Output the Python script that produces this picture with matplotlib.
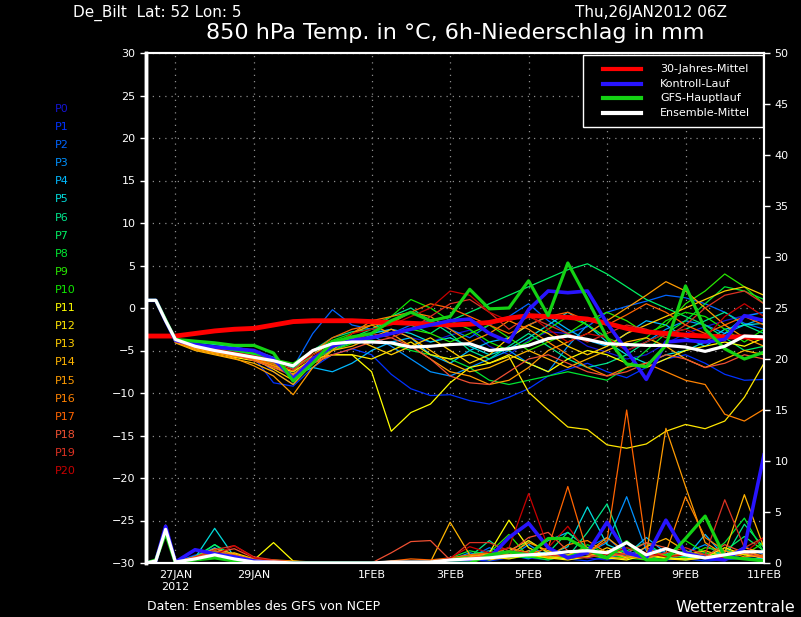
import matplotlib
matplotlib.use('Agg')
import matplotlib.pyplot as plt
from matplotlib.lines import Line2D
from matplotlib.patches import Rectangle

# time axis: hours after 26JAN2012 06Z
hours = [0, 6, 12, 18, 30, 42, 54, 66, 78, 90, 102, 114, 126, 138, 150, 162, 174,
         186, 198, 210, 222, 234, 246, 258, 270, 282, 294, 306, 318, 330, 342, 354, 366, 378]
tick_hours = [18, 66, 138, 186, 234, 282, 330, 378]
tick_labels = ['27JAN\n2012', '29JAN', '1FEB', '3FEB', '5FEB', '7FEB', '9FEB', '11FEB']

# 850 hPa temperature (deg C) of the ensemble members P0..P20
t_p0 = [0.9, 0.9, -1.5, -3.9, -4.6, -4.9, -5.3, -5.6, -7.5, -9.0, -6.0, -4.2, -3.6, -3.0, -2.5, -3.5, -4.0, -3.2, -2.6, -4.5, -5.5, -3.8, -2.8, -3.0, -4.5, -5.2, -6.0, -5.5, -4.2, -3.0, -2.2, -1.5, -0.9, -0.5]
t_p1 = [0.9, 0.9, -1.4, -4.0, -4.4, -4.8, -5.2, -5.8, -8.8, -9.2, -7.0, -5.5, -4.8, -5.5, -7.8, -9.5, -10.3, -10.2, -10.9, -11.3, -10.5, -9.5, -8.0, -7.2, -6.5, -7.5, -8.2, -7.0, -6.0, -5.5, -6.5, -7.8, -8.5, -8.4]
t_p2 = [0.9, 0.9, -1.5, -3.8, -4.2, -4.6, -5.0, -5.3, -6.0, -7.0, -3.0, -0.2, -2.0, -2.5, -3.0, -2.0, -1.5, -2.5, -3.5, -2.0, -1.0, 0.5, -1.5, -3.0, -2.2, -0.5, 0.2, 0.8, 1.5, 1.2, 0.5, -0.5, -1.8, -2.5]
t_p3 = [0.9, 0.9, -1.4, -3.7, -4.3, -4.7, -5.0, -5.5, -6.3, -7.8, -6.0, -5.0, -4.0, -3.2, -4.5, -6.0, -7.5, -8.0, -7.0, -6.0, -5.0, -6.5, -7.5, -4.5, -2.0, -3.5, -5.0, -4.0, -2.5, -1.5, -2.0, -3.0, -1.0, -0.5]
t_p4 = [0.9, 0.9, -1.5, -3.9, -4.5, -5.0, -5.5, -5.8, -6.5, -8.0, -7.0, -7.5, -6.5, -5.0, -4.0, -3.5, -5.5, -6.5, -5.0, -4.0, -3.5, -2.0, -1.0, -2.5, -3.8, -4.5, -3.0, -1.5, -2.0, -3.5, -4.5, -3.0, -2.0, -1.2]
t_p5 = [0.9, 0.9, -1.4, -3.8, -4.0, -4.3, -4.6, -5.0, -5.8, -7.2, -5.5, -4.0, -3.5, -3.0, -2.5, -3.0, -4.0, -3.5, -4.5, -5.5, -4.8, -3.5, -2.0, -0.5, -2.0, -4.0, -5.5, -6.5, -5.5, -5.0, -4.0, -2.5, -2.0, -1.8]
t_p6 = [0.9, 0.9, -1.5, -4.0, -4.7, -5.1, -5.4, -5.7, -6.5, -7.5, -5.0, -3.5, -2.8, -2.5, -1.0, 0.0, -1.5, -3.0, -5.0, -6.0, -4.5, -3.0, -4.5, -6.0, -7.0, -6.5, -5.5, -4.0, -3.0, -2.5, -1.5, -0.5, -2.0, -3.0]
t_p7 = [0.9, 0.9, -1.4, -3.9, -4.4, -4.8, -5.1, -5.5, -6.2, -7.0, -5.5, -4.5, -3.5, -2.5, -1.5, -2.0, -3.0, -1.5, -0.5, 0.5, 1.5, 2.5, 3.5, 4.5, 5.2, 4.0, 2.5, 1.0, 0.0, -1.0, -2.0, -3.5, -5.0, -4.5]
t_p8 = [0.9, 0.9, -1.5, -3.8, -4.3, -4.7, -5.1, -5.4, -6.0, -6.8, -5.8, -4.8, -4.0, -3.8, -4.2, -5.0, -5.5, -6.0, -7.0, -8.5, -9.0, -8.5, -8.0, -7.5, -8.0, -8.5, -7.0, -5.0, -3.0, -1.5, 0.5, 2.5, 2.0, 1.0]
t_p9 = [0.9, 0.9, -1.4, -4.0, -4.6, -5.0, -5.4, -5.8, -6.6, -7.5, -6.0, -5.0, -4.2, -3.5, -3.0, -2.5, -3.0, -4.0, -3.0, -2.0, -3.5, -5.0, -4.0, -3.0, -1.5, -0.5, -1.5, -3.0, -2.0, 0.5, 2.0, 4.0, 2.5, 0.5]
t_p10 = [0.9, 0.9, -1.5, -3.9, -4.4, -4.7, -5.0, -5.3, -6.0, -6.5, -5.0, -3.8, -3.0, -2.0, -1.0, 1.0, 0.0, -1.5, -2.5, -4.0, -5.0, -4.0, -2.5, -1.0, -2.0, -3.5, -4.5, -3.5, -1.5, -0.5, -1.0, -2.5, -4.0, -2.5]
t_p11 = [0.9, 0.9, -1.4, -3.9, -4.6, -5.2, -5.8, -6.2, -7.0, -7.8, -6.5, -5.5, -5.5, -7.5, -14.5, -12.3, -11.3, -8.8, -7.0, -6.5, -5.5, -6.5, -7.5, -6.0, -5.0, -5.5, -6.5, -7.0, -6.0, -5.0, -4.5, -4.0, -4.5, -3.5]
t_p12 = [0.9, 0.9, -1.5, -4.0, -4.5, -5.0, -5.5, -6.0, -6.8, -7.5, -6.0, -5.5, -5.5, -6.0, -5.0, -4.0, -5.5, -6.0, -5.5, -6.5, -5.7, -9.9, -12.0, -14.0, -14.3, -16.1, -16.5, -16.0, -14.5, -13.7, -14.2, -13.3, -10.5, -6.5]
t_p13 = [0.9, 0.9, -1.5, -3.8, -4.8, -5.3, -5.6, -6.0, -7.2, -8.5, -5.5, -4.0, -3.5, -4.5, -5.5, -4.5, -3.5, -5.0, -6.5, -5.5, -3.5, -2.0, -3.0, -4.5, -5.5, -4.5, -3.0, -2.0, -1.0, 0.0, 1.0, 2.0, 2.5, 1.5]
t_p14 = [0.9, 0.9, -1.4, -4.1, -5.0, -5.5, -6.0, -6.5, -7.5, -9.0, -6.5, -5.0, -4.5, -3.5, -2.5, -3.5, -5.0, -6.5, -7.5, -7.0, -6.0, -5.0, -6.0, -7.0, -6.0, -5.0, -4.0, -3.5, -4.5, -6.0, -7.0, -6.0, -5.0, -5.5]
t_p15 = [0.9, 0.9, -1.5, -4.0, -4.9, -5.4, -5.9, -6.8, -8.0, -10.2, -7.0, -5.0, -3.0, -2.0, -3.0, -4.5, -6.0, -7.5, -8.0, -9.0, -8.5, -7.0, -5.0, -4.0, -3.0, -1.5, 0.0, 1.5, 3.1, 2.0, 0.0, -2.0, -3.5, -4.5]
t_p16 = [0.9, 0.9, -1.4, -3.9, -4.7, -5.2, -5.7, -6.0, -6.8, -7.8, -6.0, -4.5, -3.0, -1.5, -1.0, -0.5, -1.0, -2.5, -4.0, -3.0, -1.5, -2.5, -4.0, -5.5, -7.0, -8.0, -7.0, -6.5, -7.5, -8.5, -9.0, -12.5, -13.3, -11.9]
t_p17 = [0.9, 0.9, -1.5, -3.8, -4.5, -5.0, -5.4, -5.9, -6.6, -7.4, -5.2, -3.5, -2.5, -2.0, -1.8, -0.5, 0.5, 0.0, -1.0, -2.0, -3.0, -2.0, -1.0, -0.5, -1.5, -2.0, -0.8, 0.5, -0.5, -2.0, -3.0, -2.0, -1.0, -2.0]
t_p18 = [0.9, 0.9, -1.4, -4.0, -4.6, -5.1, -5.5, -6.2, -7.0, -8.0, -6.5, -5.5, -4.8, -4.0, -3.5, -4.5, -6.0, -8.0, -8.8, -9.0, -7.5, -6.0, -5.5, -6.5, -7.5, -8.0, -7.5, -6.5, -5.5, -6.0, -7.0, -6.5, -5.5, -6.0]
t_p19 = [0.9, 0.9, -1.5, -3.9, -4.4, -4.9, -5.3, -5.7, -6.4, -7.2, -5.8, -4.6, -3.8, -3.0, -3.5, -2.5, -1.0, 0.5, 1.0, -0.5, -2.5, -1.0, -2.0, -3.0, -4.0, -3.0, -2.0, -2.5, -3.5, -2.0, 0.0, 1.5, 2.0, 0.5]
t_p20 = [0.9, 0.9, -1.4, -3.8, -4.3, -4.8, -5.2, -5.6, -6.1, -6.8, -5.5, -4.5, -3.0, -2.5, -2.0, -1.0, 0.0, 2.0, 1.5, -0.5, -1.5, -0.8, -2.5, -4.0, -3.0, -3.5, -5.0, -4.0, -3.0, -2.5, -3.5, -1.0, 0.5, -1.0]

t_control = [0.9, 0.9, -1.5, -3.8, -4.3, -4.6, -4.8, -5.0, -6.0, -8.3, -6.0, -4.5, -3.8, -3.5, -3.0, -2.5, -2.0, -1.5, -1.3, -3.0, -4.0, -0.2, 2.0, 1.8, 2.0, -1.8, -5.0, -8.4, -4.0, -3.8, -4.0, -3.7, -0.9, -1.5]
t_gfs = [0.9, 0.9, -1.4, -3.7, -3.9, -4.1, -4.4, -4.4, -5.3, -8.6, -6.5, -4.0, -3.4, -3.0, -1.5, -0.5, -1.5, -1.0, 2.2, -0.1, 0.0, 3.2, -0.9, 5.3, 1.0, -3.5, -6.6, -6.9, -4.4, 2.6, -2.5, -4.8, -6.0, -5.2]
t_mean = [0.9, 0.9, -1.5, -3.7, -4.5, -5.0, -5.4, -5.8, -6.2, -6.8, -5.0, -4.2, -4.0, -4.0, -4.1, -4.6, -4.5, -4.3, -4.2, -5.0, -4.8, -4.4, -3.6, -3.3, -3.7, -4.2, -4.3, -4.4, -4.4, -4.6, -5.1, -4.5, -3.3, -3.4]
t_clim = [-3.3, -3.3, -3.3, -3.3, -3.0, -2.7, -2.5, -2.4, -2.0, -1.6, -1.5, -1.5, -1.5, -1.6, -1.7, -1.8, -1.9, -2.0, -1.9, -1.7, -1.2, -0.9, -1.0, -1.1, -1.3, -1.8, -2.4, -2.8, -3.0, -3.2, -3.3, -3.4, -3.4, -3.5]

# 6h precipitation (mm) of the members P0..P20
r_p0 = [0, 0.2, 3.6, 0.1, 0.8, 1.2, 0.5, 0.1, 0, 0, 0, 0, 0, 0, 0, 0, 0, 0, 0.2, 0.5, 1.0, 0.5, 0.3, 0.8, 0.5, 0.3, 0.6, 1.5, 0.8, 0.3, 0.5, 1.0, 0.4, 0.2]
r_p1 = [0, 0.2, 3.5, 0.1, 0.5, 1.0, 0.8, 0.2, 0.1, 0, 0, 0, 0, 0, 0, 0, 0.1, 0.2, 0.3, 0.2, 0.5, 1.2, 0.8, 0.4, 0.2, 0.6, 1.0, 0.5, 0.3, 0.4, 0.2, 0.3, 0.5, 0.3]
r_p2 = [0, 0.2, 3.7, 0.1, 0.4, 0.8, 0.3, 0, 0, 0, 0, 0, 0, 0, 0, 0, 0, 0.1, 0.5, 1.5, 0.8, 0.4, 1.2, 0.6, 1.5, 2.5, 0.8, 1.5, 1.0, 0.5, 0.8, 0.4, 1.6, 0.8]
r_p3 = [0, 0.2, 3.6, 0.1, 0.6, 1.5, 0.4, 0.1, 0, 0, 0, 0, 0, 0, 0, 0, 0, 0.3, 1.0, 0.6, 0.5, 1.8, 0.6, 0.8, 1.0, 2.0, 6.5, 1.2, 0.5, 1.0, 1.8, 0.6, 0.4, 0.3]
r_p4 = [0, 0.2, 3.5, 0.1, 0.7, 1.1, 0.3, 0.1, 0, 0, 0, 0, 0, 0, 0, 0.1, 0, 0.2, 0.8, 1.2, 0.5, 1.0, 2.2, 3.0, 1.5, 0.6, 0.8, 2.5, 1.0, 0.5, 2.8, 0.6, 0.5, 0.4]
r_p5 = [0, 0.2, 3.5, 0.1, 0.5, 3.4, 0.6, 0.1, 0, 0, 0, 0, 0, 0, 0, 0, 0, 0.2, 0.4, 0.8, 1.5, 0.6, 0.8, 1.6, 5.5, 1.8, 1.0, 0.5, 0.8, 0.6, 0.4, 1.2, 1.0, 0.4]
r_p6 = [0, 0.2, 3.4, 0.1, 0.5, 1.8, 0.4, 0, 0, 0, 0, 0, 0, 0, 0, 0, 0, 0.4, 0.6, 2.2, 0.8, 0.5, 1.2, 0.6, 3.0, 5.8, 0.8, 0.4, 0.6, 0.8, 1.0, 0.5, 3.8, 1.5]
r_p7 = [0, 0.2, 3.6, 0.1, 0.6, 1.8, 0.7, 0.2, 0, 0, 0, 0, 0, 0, 0.1, 0, 0, 0.3, 0.5, 0.7, 0.6, 2.2, 1.0, 3.0, 1.5, 0.8, 1.2, 2.0, 0.6, 0.3, 0.6, 1.2, 2.6, 1.2]
r_p8 = [0, 0.2, 3.5, 0.1, 0.4, 0.9, 0.3, 0.1, 0, 0, 0, 0, 0, 0, 0, 0, 0, 0.5, 1.2, 0.8, 0.5, 0.6, 0.3, 0.8, 1.0, 0.5, 1.5, 0.8, 0.6, 1.2, 0.5, 2.0, 4.4, 1.0]
r_p9 = [0, 0.2, 3.4, 0.1, 0.5, 1.0, 0.5, 0.1, 0, 0, 0, 0, 0, 0, 0, 0, 0, 0.3, 0.8, 1.0, 2.8, 0.6, 0.5, 1.2, 0.8, 0.4, 0.6, 1.0, 0.8, 0.5, 1.5, 1.2, 0.8, 2.0]
r_p10 = [0, 0.2, 3.3, 0.1, 0.6, 1.2, 0.6, 0.2, 0, 0, 0, 0, 0, 0, 0, 0, 0.1, 0.4, 0.6, 0.3, 0.8, 1.0, 0.4, 0.6, 1.8, 0.9, 0.5, 0.3, 0.7, 2.2, 1.0, 0.6, 0.5, 0.3]
r_p11 = [0, 0.2, 3.5, 0.1, 0.3, 0.8, 0.5, 0.3, 2.0, 0.2, 0, 0, 0, 0, 0, 0, 0, 0.2, 0.5, 1.0, 4.2, 1.5, 0.6, 0.4, 1.0, 0.5, 0.3, 0.8, 0.5, 0.4, 0.6, 1.5, 0.8, 0.5]
r_p12 = [0, 0.2, 3.6, 0.1, 0.4, 1.0, 0.8, 0.2, 0.1, 0, 0, 0, 0, 0, 0, 0, 0, 0.1, 0.3, 0.6, 0.4, 0.8, 0.5, 0.3, 0.6, 1.2, 0.5, 0.8, 0.4, 0.3, 0.5, 0.8, 1.2, 0.6]
r_p13 = [0, 0.2, 3.7, 0.1, 0.5, 0.7, 1.0, 0.4, 0.2, 0, 0, 0, 0, 0, 0, 0, 0, 0.2, 0.4, 0.8, 1.2, 2.2, 1.0, 0.5, 0.6, 1.5, 0.8, 1.0, 0.6, 0.8, 1.2, 0.6, 0.9, 0.5]
r_p14 = [0, 0.2, 3.6, 0.1, 0.6, 1.4, 0.9, 0.3, 0.2, 0.1, 0, 0, 0, 0, 0, 0, 0.1, 4.0, 0.8, 0.3, 0.6, 1.2, 0.5, 0.8, 1.5, 0.6, 0.4, 1.6, 2.4, 1.2, 0.5, 1.0, 6.7, 1.5]
r_p15 = [0, 0.2, 3.5, 0.1, 0.5, 1.0, 0.7, 0.4, 0.3, 0.2, 0.1, 0, 0, 0, 0, 0, 0, 0.3, 0.6, 1.0, 0.8, 2.0, 1.2, 0.6, 1.0, 2.5, 1.0, 0.8, 13.2, 7.5, 2.0, 0.8, 1.5, 1.0]
r_p16 = [0, 0.2, 3.4, 0.1, 0.3, 0.9, 0.5, 0.2, 0.1, 0, 0, 0, 0, 0, 0, 0, 0, 0.2, 0.5, 0.8, 1.5, 1.0, 0.6, 1.8, 2.2, 1.0, 0.6, 0.4, 1.0, 6.5, 2.5, 1.2, 0.6, 0.8]
r_p17 = [0, 0.2, 3.6, 0.1, 0.6, 1.2, 0.8, 0.3, 0.1, 0, 0, 0, 0, 0, 0.2, 0.4, 0.3, 0.5, 0.8, 1.0, 0.6, 0.8, 1.5, 7.5, 1.0, 2.2, 15.0, 1.5, 0.6, 1.0, 0.8, 0.5, 1.2, 0.6]
r_p18 = [0, 0.2, 3.5, 0.1, 0.5, 1.0, 1.4, 0.5, 0.2, 0, 0, 0, 0, 0, 1.0, 2.1, 2.2, 0.3, 0.5, 0.8, 1.0, 2.5, 3.0, 1.2, 0.8, 0.6, 1.0, 2.0, 1.5, 0.8, 0.6, 1.8, 1.0, 0.5]
r_p19 = [0, 0.2, 3.7, 0.1, 0.6, 1.3, 1.7, 0.6, 0.3, 0.1, 0, 0, 0, 0, 0, 0, 0, 0.4, 2.0, 2.0, 1.2, 1.0, 0.8, 0.6, 0.5, 1.0, 0.8, 0.6, 1.0, 1.5, 0.8, 6.2, 1.5, 2.5]
r_p20 = [0, 0.2, 3.6, 0.1, 0.4, 0.8, 1.7, 0.5, 0.2, 0, 0, 0, 0, 0, 0, 0, 0, 0.5, 1.6, 1.0, 1.5, 6.8, 1.5, 3.6, 1.0, 0.8, 1.5, 1.0, 0.6, 0.8, 0.5, 0.6, 1.0, 2.5]

r_control = [0, 0.2, 3.6, 0.1, 1.3, 0.9, 0.6, 0.2, 0, 0, 0, 0, 0, 0, 0, 0, 0, 0.1, 0.3, 0.5, 2.5, 3.9, 1.5, 0.5, 1.0, 4.0, 1.0, 0.5, 4.2, 1.0, 0.5, 0.3, 1.5, 10.6]
r_gfs = [0, 0.3, 2.9, 0, 0.3, 0.5, 0.2, 0, 0, 0, 0, 0, 0, 0, 0, 0, 0, 0, 0, 0.8, 1.1, 0.8, 2.4, 2.4, 1.3, 0.5, 2.1, 0.3, 0.3, 2.4, 4.6, 0.6, 0.4, 0.2]
r_mean = [0, 0.2, 3.3, 0.1, 0.4, 0.8, 0.4, 0.1, 0.1, 0, 0, 0, 0, 0, 0.1, 0.1, 0.1, 0.3, 0.4, 0.5, 0.7, 0.8, 0.9, 1.1, 1.2, 1.0, 2.0, 0.8, 1.4, 0.8, 0.5, 0.8, 1.1, 1.1]

member_temps = [t_p0, t_p1, t_p2, t_p3, t_p4, t_p5, t_p6, t_p7, t_p8, t_p9, t_p10,
                t_p11, t_p12, t_p13, t_p14, t_p15, t_p16, t_p17, t_p18, t_p19, t_p20]
member_rain = [r_p0, r_p1, r_p2, r_p3, r_p4, r_p5, r_p6, r_p7, r_p8, r_p9, r_p10,
               r_p11, r_p12, r_p13, r_p14, r_p15, r_p16, r_p17, r_p18, r_p19, r_p20]
member_colors = ['#1414d2', '#0032ff', '#0064ff', '#0091ff', '#00b9ff', '#00dcdc',
                 '#00e68c', '#00f064', '#00e632', '#28e600', '#10e600', '#ffff00',
                 '#ffe600', '#ffcd00', '#ffb400', '#ff9b00', '#ff8200', '#ff6400',
                 '#f05032', '#dc3223', '#c80000']

fig = plt.figure(figsize=(8.01, 6.17), dpi=100, facecolor='black')
ax = fig.add_axes([146 / 801, 54 / 617, 618 / 801, 510 / 617])
ax.set_facecolor('black')

# temperature spaghetti
for temps, col in zip(member_temps, member_colors):
    ax.plot(hours, temps, color=col, lw=0.9)
ax.plot(hours, t_clim, color='#ff0000', lw=3.5)
ax.plot(hours, t_control, color='#2814ff', lw=2.6)
ax.plot(hours, t_gfs, color='#14d214', lw=2.3)
ax.plot(hours, t_mean, color='white', lw=2.3)

ax.set_xlim(0, 378)
ax.set_ylim(-30, 30)
ax.set_yticks(range(-30, 31, 5))
ax.set_xticks(tick_hours)
ax.set_xticklabels(tick_labels)
ax.grid(True, color='#8c8c8c', linestyle=(0, (1, 4)), lw=0.9)
ax.set_axisbelow(True)
ax.tick_params(axis='y', colors='white', labelsize=8, length=4, width=1)
ax.tick_params(axis='x', colors='white', labelsize=8, length=0, pad=5)

# precipitation on the right axis
ax2 = ax.twinx()
for rain, col in zip(member_rain, member_colors):
    ax2.plot(hours, rain, color=col, lw=0.9)
ax2.plot(hours, r_control, color='#2814ff', lw=2.6)
ax2.plot(hours, r_gfs, color='#14d214', lw=2.3)
ax2.plot(hours, r_mean, color='white', lw=2.3)
ax2.set_ylim(0, 50)
ax2.set_yticks(range(0, 51, 5))
ax2.tick_params(axis='y', colors='white', labelsize=8, length=4, width=1)

for a in (ax, ax2):
    for side in ('left', 'right', 'top', 'bottom'):
        a.spines[side].set_color('white')
        a.spines[side].set_linewidth(1.5)
    a.spines['left'].set_linewidth(2.5)

# member labels on the left
for i, col in enumerate(member_colors):
    fig.text(55 / 801, 1 - (109 + 18.1 * i) / 617, 'P%d' % i, color=col,
             fontsize=8, ha='left', va='center')

# header and footer
fig.text(73 / 801, 1 - 13 / 617, 'De_Bilt  Lat: 52 Lon: 5', color='white',
         fontsize=11, ha='left', va='center')
fig.text(727 / 801, 1 - 13 / 617, 'Thu,26JAN2012 06Z', color='white',
         fontsize=11, ha='right', va='center')
fig.text(455 / 801, 1 - 33 / 617, '850 hPa Temp. in °C, 6h-Niederschlag in mm',
         color='white', fontsize=16, ha='center', va='center')
fig.text(147 / 801, 1 - 607 / 617, 'Daten: Ensembles des GFS von NCEP',
         color='white', fontsize=9, ha='left', va='center')
fig.text(795 / 801, 1 - 607 / 617, 'Wetterzentrale', color='white',
         fontsize=11.5, ha='right', va='center')

# legend box in the upper right corner
fig.add_artist(Rectangle((583 / 801, 1 - 127 / 617), 180 / 801, 72 / 617,
                         transform=fig.transFigure, facecolor='black',
                         edgecolor='white', lw=1, zorder=5))
legend_items = [('30-Jahres-Mittel', '#ff0000'), ('Kontroll-Lauf', '#2814ff'),
                ('GFS-Hauptlauf', '#14d214'), ('Ensemble-Mittel', 'white')]
for k, (label, col) in enumerate(legend_items):
    yy = 1 - (69 + 14.7 * k) / 617
    fig.add_artist(Line2D([603 / 801, 641 / 801], [yy, yy], transform=fig.transFigure,
                          color=col, lw=3, zorder=6))
    fig.text(660 / 801, yy, label, color='white', fontsize=8, ha='left',
             va='center', zorder=6)

fig.savefig('out.png', dpi=100, facecolor='black')
